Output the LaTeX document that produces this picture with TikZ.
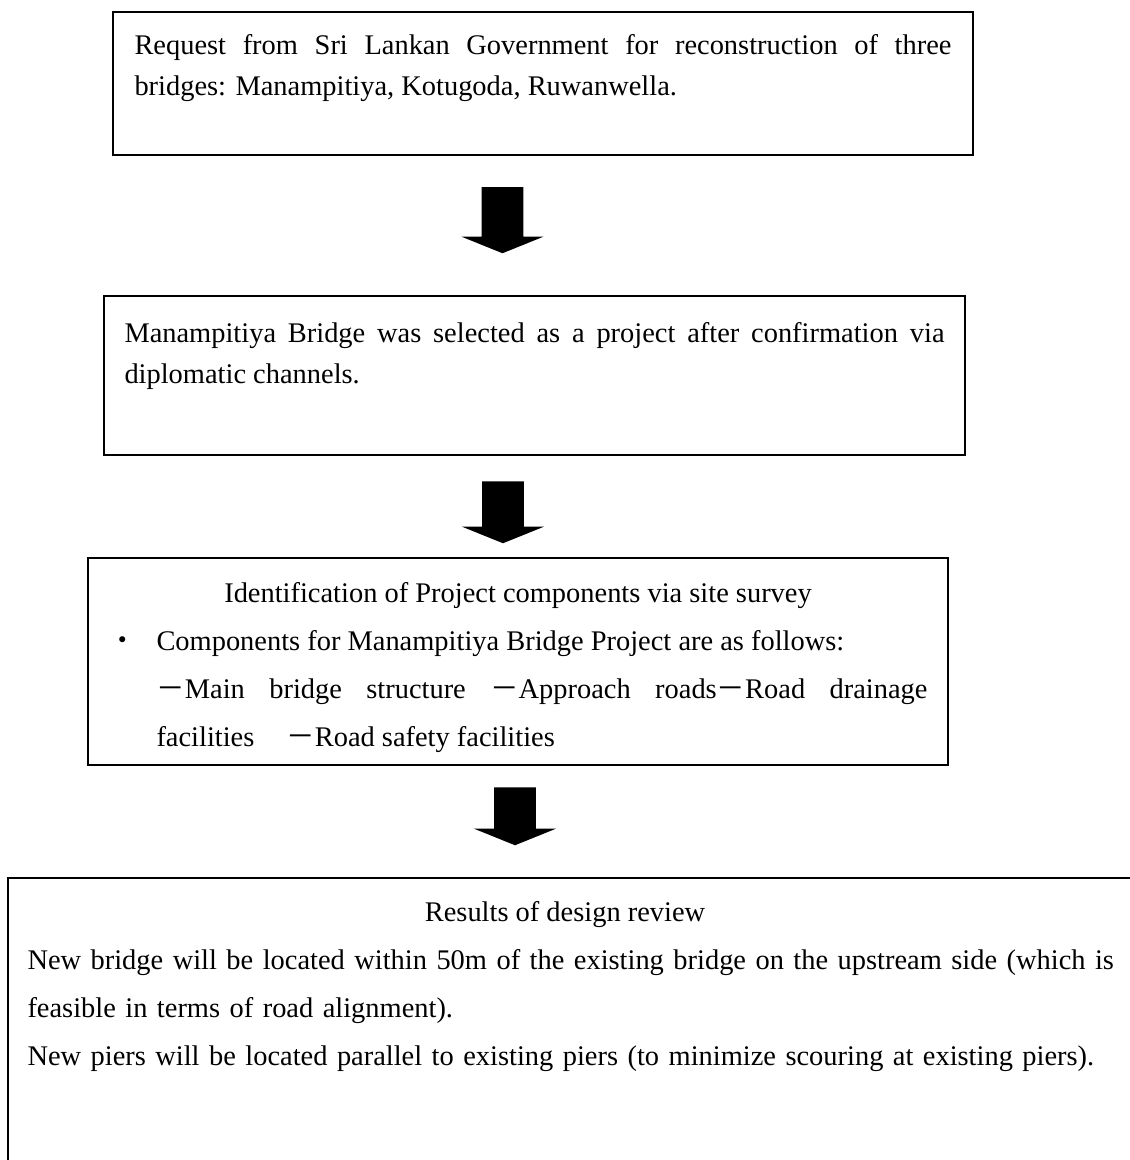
\documentclass[tikz,border=0pt]{standalone}
\usepackage{fontspec}
\setmainfont{Liberation Serif}
\newfontfamily\cjk{Noto Sans CJK JP}
\usetikzlibrary{positioning,shapes.arrows}
\newlength\px
\setlength\px{0.408pt}

\begin{document}
\begin{tikzpicture}[
    x=0.408pt, y=-0.408pt,
    box/.style={rectangle, draw=black, line width=0.8pt, inner sep=0pt},
    para/.style={inner sep=0pt, align=justify, font=\fontsize{11.6pt}{17.1pt}\selectfont},
    listtxt/.style={para, font=\fontsize{11.6pt}{19.6pt}\selectfont},
    plaintxt/.style={inner sep=0pt, align=left, font=\fontsize{11.6pt}{19.6pt}\selectfont},
    headtxt/.style={inner sep=0pt, font=\fontsize{11.6pt}{14pt}\selectfont},
    bigarrow/.style={single arrow, fill=black, inner sep=20.5\px, minimum height=66\px, minimum width=81\px,
        single arrow head extend=20\px, single arrow tip angle=136, shape border rotate=270}
    ]
    \useasboundingbox (0,0) rectangle (1129,1160);

    \node[box, minimum width=860\px, minimum height=143\px] (request) at (543,83.5) {};
    \node[para, text width=817\px, anchor=base west] (requesttxt) at ([xshift=22\px, yshift=-43\px]request.north west)
        {Request from Sri Lankan Government for reconstruction of three\linebreak bridges: Manampitiya, Kotugoda, Ruwanwella.};

    \node[box, minimum width=861\px, minimum height=159\px] (select) at (534.5,375.5) {};
    \node[para, text width=820\px, anchor=base west] (selecttxt) at ([xshift=21\px, yshift=-47\px]select.north west)
        {Manampitiya Bridge was selected as a project after confirmation via\linebreak diplomatic channels.};

    \node[box, minimum width=860\px, minimum height=207\px] (survey) at (518,661.5) {};
    \node[headtxt, anchor=base] (surveyhead) at ([yshift=-45\px]survey.north)
        {Identification of Project components via site survey};
    \node[listtxt, text width=771\px, anchor=base west] (surveylist) at ([xshift=69\px, yshift=-93\px]survey.north west)
        {\llap{{\cjk ・}\hspace{19.5\px}}Components for Manampitiya Bridge Project are as follows:\\
         {\cjk －}Main bridge structure {\cjk －}Approach roads{\cjk －}Road drainage\linebreak
         facilities\hspace{32\px}{\cjk －}Road safety facilities};

    \node[box, minimum width=1140\px, minimum height=300\px] (review) at (578,1028) {};
    \node[headtxt, anchor=base] (reviewhead) at ([xshift=558\px, yshift=-44\px]review.north west)
        {Results of design review};
    \node[plaintxt, text width=1100\px, anchor=base west] (reviewtxt) at ([xshift=20\px, yshift=-92\px]review.north west)
        {New bridge will be located within 50m of the existing bridge on the upstream side (which is\\
         feasible in terms of road alignment).\\
         New piers will be located parallel to existing piers (to minimize scouring at existing piers).};

    % block arrows between the steps
    \node[bigarrow] (arrowa) at (502.5,216) {};
    \node[bigarrow, minimum height=62\px] (arrowb) at (503,508) {};
    \node[bigarrow, minimum height=58\px] (arrowc) at (515,812) {};
\end{tikzpicture}
\end{document}
